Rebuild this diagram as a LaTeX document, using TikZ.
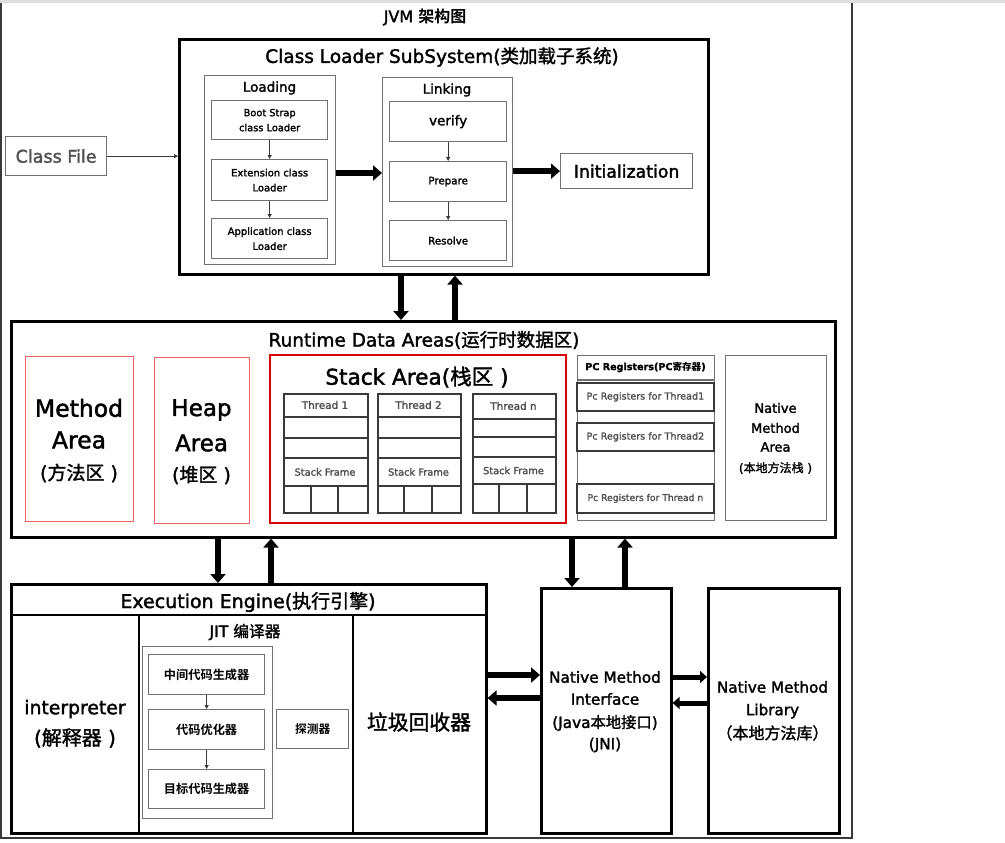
\documentclass[tikz,border=0pt]{standalone}
\usepackage{fontspec}
\setmainfont{DejaVu Sans}[FakeBold=1.8]
\newfontfamily\cjk{Noto Sans CJK SC}[FakeBold=1.6]
\newfontfamily\cjkb{Noto Sans CJK SC Bold}
\newcommand\zh[1]{{\cjk #1}}
\newcommand\fs[1]{\fontsize{#1}{#1}\selectfont}
\usetikzlibrary{arrows.meta}
\definecolor{frame}{HTML}{3A3A3A}
\definecolor{gline}{HTML}{707070}
\definecolor{rline}{HTML}{F06060}
\definecolor{txtg}{HTML}{505050}
\tikzset{
  bigbox/.style={draw=black, line width=2.6pt, inner sep=0pt, anchor=north west, align=center},
  graybox/.style={draw=gline, line width=1.3pt, inner sep=0pt, anchor=north west, align=center},
  dkbox/.style={draw=frame, line width=1.8pt, inner sep=0pt, anchor=north west, align=center},
  redbox/.style={draw=rline, line width=1.2pt, inner sep=0pt, anchor=north west, align=center},
  redthick/.style={draw=red!85!black, line width=2pt, inner sep=0pt, anchor=north west, align=center},
  lbl/.style={inner sep=0pt, align=center},
  bigarrow/.style={line width=6pt, -{Triangle[width=15pt,length=9pt]}},
  midarrow/.style={line width=5pt, -{Triangle[width=12pt,length=7pt]}},
  thinarrow/.style={draw=frame, line width=0.8pt, -{Triangle[width=4pt,length=4pt]}},
}
\newcommand\bx[7]{\node[#1, minimum width={#4-#2}, minimum height={#5-#3}] (#6) at (#2,#3) {#7};}
\begin{document}
\begin{tikzpicture}[x=1pt,y=-1pt]
\useasboundingbox (0,0) rectangle (1005,843);
\fill[white] (0,0) rectangle (1005,843);
% top strip and outer frame
\fill[black!13] (0,0) rectangle (1005,3);
\draw[draw=frame, line width=2pt] (1,3) -- (1,838) -- (852,838) -- (852,3);
\node[lbl, font=\fs{16}] (title) at (425,17) {JVM {\cjkb 架构图}};

% ---------------- Class loader subsystem
\bx{bigbox}{178}{38}{707}{273}{cls}{}
\node[lbl, font=\fs{18.5}] (clst) at (442,57) {Class Loader SubSystem(\zh{类加载子系统})};
\bx{graybox}{204}{75}{335}{264}{loading}{}
\node[lbl, font=\fs{13.5}] (loadt) at (269.5,88) {Loading};
\bx{graybox}{211}{100}{327}{139}{boot}{\fs{9.8}Boot Strap\\[3pt]\fs{9.8}class Loader}
\bx{graybox}{211}{159}{327}{200}{ext}{\fs{10}Extension class\\[3pt]\fs{10}Loader}
\bx{graybox}{211}{218}{327}{258}{app}{\fs{10}Application class\\[3pt]\fs{10}Loader}
\bx{graybox}{382}{77}{512}{266}{linking}{}
\node[lbl, font=\fs{13.5}] (linkt) at (447,90) {Linking};
\bx{graybox}{389}{101}{506}{141}{verify}{\fs{13.5}verify}
\bx{graybox}{389}{161}{506}{201}{prepare}{\fs{10.3}Prepare}
\bx{graybox}{389}{220}{506}{260}{resolve}{\fs{10.3}Resolve}
\bx{graybox}{560}{153}{692}{188}{init}{\fs{17.3}Initialization}
\bx{graybox}{5}{136}{106}{175}{cf}{\color{txtg}\fs{17.5}Class File}

\draw[thinarrow] (boot) -- (ext);
\draw[thinarrow] (ext) -- (app);
\draw[thinarrow] (verify) -- (prepare);
\draw[thinarrow] (prepare) -- (resolve);
\coordinate (yl) at (0,173);
\draw[bigarrow] (loading.east |- yl) -- (linking.west |- yl);
\draw[bigarrow] (linking.east |- init.west) -- (init.west);
\draw[thinarrow] (cf.east) -- (cls.west |- cf.east);

% ---------------- Runtime data areas
\bx{bigbox}{10}{320}{834}{536}{rt}{}
\node[lbl, font=\fs{18.5}] (rtt) at (424,340) {Runtime Data Areas(\zh{运行时数据区})};
\bx{redbox}{25}{356}{133}{521}{method}{}
\node[lbl, font=\fs{23.5}] (m1) at (79,408) {Method};
\node[lbl, font=\fs{23.5}] (m2) at (79,440) {Area};
\node[lbl, font=\fs{19}] (m3) at (79,473) {(\zh{方法区} )};
\bx{redbox}{154}{357}{249}{523}{heap}{}
\node[lbl, font=\fs{23}] (h1) at (201.5,410) {Heap};
\node[lbl, font=\fs{23}] (h2) at (201.5,443) {Area};
\node[lbl, font=\fs{19}] (h3) at (201.5,475) {(\zh{堆区} )};
\bx{redthick}{269}{354}{565}{522}{stack}{}
\node[lbl, font=\fs{21.6}] (stackt) at (417,377) {Stack Area(\zh{栈区} )};

% thread columns
\foreach \nm/\xa/\xb/\ca/\cb/\ya/\yb/\yc/\yd/\lab in
  {t1/283/367/311/338/417/438/458/486/Thread 1,
   t2/377/460/404/432/417/438/458/486/Thread 2,
   tn/472/555/499/527/419/437/457/484/Thread n}{
  \bx{dkbox}{\xa}{393}{\xb}{512}{\nm}{}
  \draw[draw=frame, line width=1.8pt] (\xa,\ya) -- (\xb,\ya) (\xa,\yb) -- (\xb,\yb)
     (\xa,\yc) -- (\xb,\yc) (\xa,\yd) -- (\xb,\yd) (\ca,\yd) -- (\ca,512) (\cb,\yd) -- (\cb,512);
  \node[lbl, text=txtg, font=\fs{10.4}] (\nm h) at ({(\xa+\xb)/2},{(393+\ya)/2}) {\lab};
  \node[lbl, text=txtg, font=\fs{9.8}] (\nm f) at ({(\xa+\xb)/2},{(\yc+\yd)/2}) {Stack Frame};
}

% PC registers
\bx{graybox}{577}{355}{714}{520}{pc}{}
\draw[draw=gline, line width=1.3pt] (577,380) -- (714,380);
\node[lbl, font=\bfseries\fs{9.6}] (pct) at (645.5,367) {PC Registers(PC{\cjkb 寄存器})};
\bx{dkbox}{576}{382}{713}{410}{pc1}{\color{txtg}\fs{9.6}Pc Registers for Thread1}
\bx{dkbox}{576}{422}{713}{450}{pc2}{\color{txtg}\fs{9.6}Pc Registers for Thread2}
\bx{dkbox}{576}{483}{713}{512}{pcn}{\color{txtg}\fs{9.2}Pc Registers for Thread n}
\bx{graybox}{725}{355}{826}{520}{nma}{}
\node[lbl, font=\fs{13}] (n1) at (775.5,408) {Native};
\node[lbl, font=\fs{13}] (n2) at (775.5,428) {Method};
\node[lbl, font=\fs{13}] (n3) at (775.5,447) {Area};
\node[lbl, font=\fs{12}] (n4) at (775.5,468) {(\zh{本地方法栈} )};

% ---------------- Execution engine
\bx{bigbox}{10}{583}{485}{832}{ee}{}
\draw[line width=2.6pt] (10,615) -- (485,615) (139,615) -- (139,832) (353,615) -- (353,832);
\node[lbl, font=\fs{19}] (eet) at (248,602) {Execution Engine(\zh{执行引擎})};
\node[lbl, font=\fs{18.8}] (interp) at (75,709) {interpreter};
\node[lbl, font=\fs{20}] (interpc) at (75,738) {(\zh{解释器} )};
\node[lbl, font=\fs{15.7}] (jitt) at (245,632) {JIT \zh{编译器}};
\bx{graybox}{142}{646}{272}{818}{jit}{}
\bx{graybox}{148}{654}{264}{694}{j1}{\cjkb\fs{12.2}中间代码生成器}
\bx{graybox}{148}{709}{264}{749}{j2}{\cjkb\fs{12.2}代码优化器}
\bx{graybox}{148}{769}{264}{808}{j3}{\cjkb\fs{12.2}目标代码生成器}
\bx{graybox}{276}{709}{348}{748}{probe}{\cjkb\fs{11.7}探测器}
\draw[thinarrow] (j1) -- (j2);
\draw[thinarrow] (j2) -- (j3);
\node[lbl, font=\cjk\fs{20.8}] (gc) at (419,722) {垃圾回收器};

% ---------------- Native method interface / library
\bx{bigbox}{540}{587}{670}{832}{nmi}{}
\node[lbl, font=\fs{15.3}] (i1) at (605,677) {Native Method};
\node[lbl, font=\fs{15.3}] (i2) at (605,699) {Interface};
\node[lbl, font=\fs{15.3}] (i3) at (605,723) {(Java\zh{本地接口})};
\node[lbl, font=\fs{15.3}] (i4) at (605,745) {(JNI)};
\bx{bigbox}{707}{587}{838}{832}{nml}{}
\node[lbl, font=\fs{15.2}] (l1) at (772.5,687) {Native Method};
\node[lbl, font=\fs{15.2}] (l2) at (772.5,711) {Library};
\node[lbl, font=\fs{16}] (l3) at (772.5,733) {\zh{（本地方法库）}};

% ---------------- big arrows
\coordinate (xa) at (401,0);
\coordinate (xb) at (455,0);
\coordinate (xc) at (218,0);
\coordinate (xd) at (271,0);
\coordinate (xe) at (572,0);
\coordinate (xf) at (625,0);
\coordinate (ya) at (0,675);
\coordinate (yb) at (0,698);
\coordinate (yc) at (0,677);
\coordinate (yd) at (0,703);
\draw[bigarrow] (cls.south -| xa) -- (rt.north -| xa);
\draw[bigarrow] (rt.north -| xb) -- (cls.south -| xb);
\draw[bigarrow] (rt.south -| xc) -- (ee.north -| xc);
\draw[bigarrow] (ee.north -| xd) -- (rt.south -| xd);
\draw[bigarrow] (rt.south -| xe) -- (nmi.north -| xe);
\draw[bigarrow] (nmi.north -| xf) -- (rt.south -| xf);
\draw[bigarrow] (ee.east |- ya) -- (nmi.west |- ya);
\draw[bigarrow] (nmi.west |- yb) -- (ee.east |- yb);
\draw[midarrow] (nmi.east |- yc) -- (nml.west |- yc);
\draw[midarrow] (nml.west |- yd) -- (nmi.east |- yd);
\end{tikzpicture}
\end{document}
